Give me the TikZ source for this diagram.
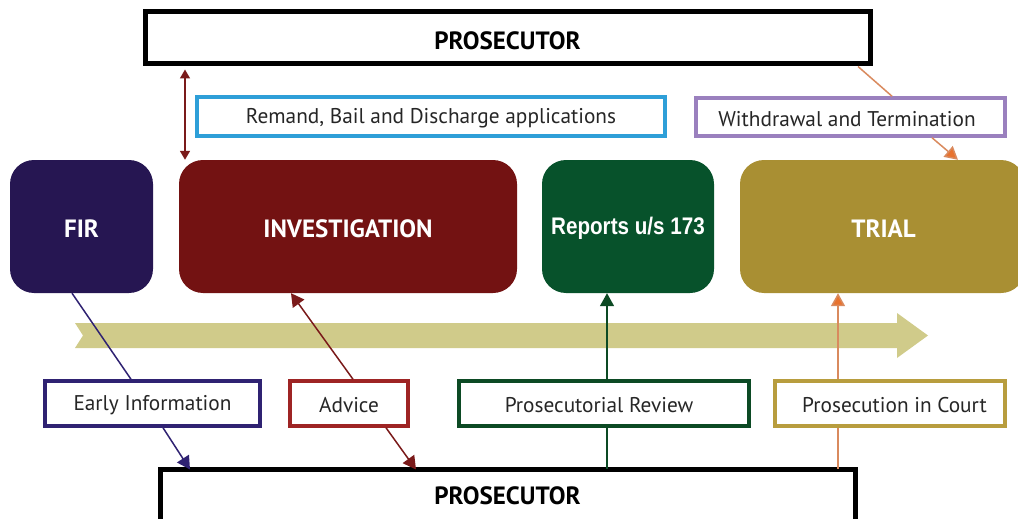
\documentclass[tikz,border=0pt]{standalone}
\usepackage{fontspec}
\setmainfont{PT Sans}
\newfontfamily\arialfont{Liberation Sans}
\usetikzlibrary{arrows.meta,calc}
\definecolor{firc}{HTML}{261652}
\definecolor{invc}{HTML}{731212}
\definecolor{repc}{HTML}{07522B}
\definecolor{trialc}{HTML}{A98F33}
\definecolor{flowc}{HTML}{D0CB8A}
\definecolor{bluec}{HTML}{2E9FD8}
\definecolor{purc}{HTML}{9A80BE}
\definecolor{navyc}{HTML}{2F2272}
\definecolor{redc}{HTML}{9E2424}
\definecolor{greenc}{HTML}{0C4A24}
\definecolor{goldc}{HTML}{B89D3E}
\definecolor{orangec}{HTML}{E8722E}
\definecolor{orangeline}{HTML}{D98A5E}
\definecolor{darkredc}{HTML}{7A1A1A}
\newcommand{\lbltxt}[2]{\raisebox{-2pt}[\height][\depth]{\hspace*{#1}#2}}
\tikzset{
  prosbox/.style={draw=black,line width=5pt,fill=white,inner sep=0pt},
  prostext/.style={font=\fontsize{25}{30}\selectfont\bfseries,inner sep=0pt},
  stagebox/.style={rounded corners=24pt,text=white,font=\fontsize{25}{30}\selectfont\bfseries,inner sep=0pt},
  labelbox/.style={draw,line width=3.5pt,fill=white,font=\fontsize{21.3}{25}\selectfont,text=black!85,inner sep=0pt},
  conn/.style={line width=1.5pt},
  tip/.style={-{Triangle[width=14pt,length=13pt]}},
}
\begin{document}
\begin{tikzpicture}[x=1pt,y=-1pt]
\useasboundingbox (0,0) rectangle (1018,519);
% flow arrow
\fill[flowc] (75,323) -- (897,323) -- (897,313) -- (928,335.5) -- (897,358) -- (897,348) -- (75,348) -- (83,335.5) -- cycle;
% prosecutor boxes
\node[prosbox,minimum width=725pt,minimum height=52pt] (ptop) at (507.5,38) {};
\node[prostext] (ptoptext) at (507.5,41) {PROSECUTOR};
\node[prosbox,minimum width=695pt,minimum height=70pt] (pbot) at (507.5,504) {};
\node[prostext] (pbottext) at (507.5,496) {PROSECUTOR};
% stage boxes
\node[stagebox,fill=firc,minimum width=143pt,minimum height=133pt] (fir) at (81.5,226.5) {\lbltxt{0pt}{FIR}};
\node[stagebox,fill=invc,minimum width=338pt,minimum height=133pt] (inv) at (348,226.5) {\lbltxt{0pt}{INVESTIGATION}};
\node[stagebox,fill=repc,minimum width=172pt,minimum height=133pt,font=\arialfont\fontsize{24}{28}\selectfont\bfseries] (rep) at (628,226.5) {\lbltxt{0pt}{\scalebox{0.86}[1]{Reports u/s 173}}};
\node[stagebox,fill=trialc,minimum width=285pt,minimum height=133pt] (trial) at (882.5,226.5) {\lbltxt{2pt}{TRIAL}};
% upper label boxes
\node[labelbox,draw=bluec,minimum width=468pt,minimum height=39pt] (remand) at (431,116.5) {\lbltxt{0pt}{Remand, Bail and Discharge applications}};
\node[labelbox,draw=purc,minimum width=309pt,minimum height=38pt] (withd) at (850.5,117) {\lbltxt{-7pt}{Withdrawal and Termination}};
% lower label boxes
\node[labelbox,draw=navyc,minimum width=215pt,minimum height=45pt] (early) at (152.5,403.5) {\lbltxt{0pt}{Early Information}};
\node[labelbox,draw=redc,minimum width=118pt,minimum height=45pt] (advice) at (349,403.5) {\lbltxt{0pt}{Advice}};
\node[labelbox,draw=greenc,minimum width=290pt,minimum height=45pt] (review) at (604,403.5) {\lbltxt{-10pt}{Prosecutorial Review}};
\node[labelbox,draw=goldc,minimum width=230pt,minimum height=45pt] (court) at (890,403.5) {\lbltxt{9pt}{Prosecution in Court}};
% connectors
\draw[conn,darkredc,{Triangle[width=10pt,length=9pt]}-{Triangle[width=10pt,length=9pt]}] ([xshift=-322.5pt,yshift=-3pt]ptop.south) -- ([xshift=-163pt]inv.north);
\draw[conn,orangeline] ([xshift=350.5pt]ptop.south) -- ([xshift=41.5pt]withd.north);
\draw[conn,orangeline,-{Triangle[width=14pt,length=13pt,fill=orangec]}] ([xshift=81.5pt]withd.south) -- ([xshift=75.5pt]trial.north);
\draw[conn,navyc] ([xshift=-9.5pt]fir.south) -- ([xshift=-21.5pt]early.north);
\draw[conn,navyc,tip] ([xshift=10.5pt]early.south) -- ([xshift=-317.5pt,yshift=-3pt]pbot.north);
\draw[conn,darkredc,tip] ([xshift=4pt]advice.north) -- ([xshift=-57pt]inv.south);
\draw[conn,darkredc,tip] ([xshift=37pt]advice.south) -- ([xshift=-91.5pt,yshift=-3pt]pbot.north);
\draw[conn,greenc] ([xshift=99.5pt,yshift=-2pt]pbot.north) -- ([xshift=3pt]review.south);
\draw[conn,greenc,tip] ([xshift=3pt]review.north) -- ([xshift=-21pt]rep.south);
\draw[conn,orangeline] ([xshift=330.5pt,yshift=-2pt]pbot.north) -- ([xshift=-52pt]court.south);
\draw[conn,orangeline,-{Triangle[width=14pt,length=13pt,fill=orangec]}] ([xshift=-52pt]court.north) -- ([xshift=-44.5pt]trial.south);
\end{tikzpicture}
\end{document}
